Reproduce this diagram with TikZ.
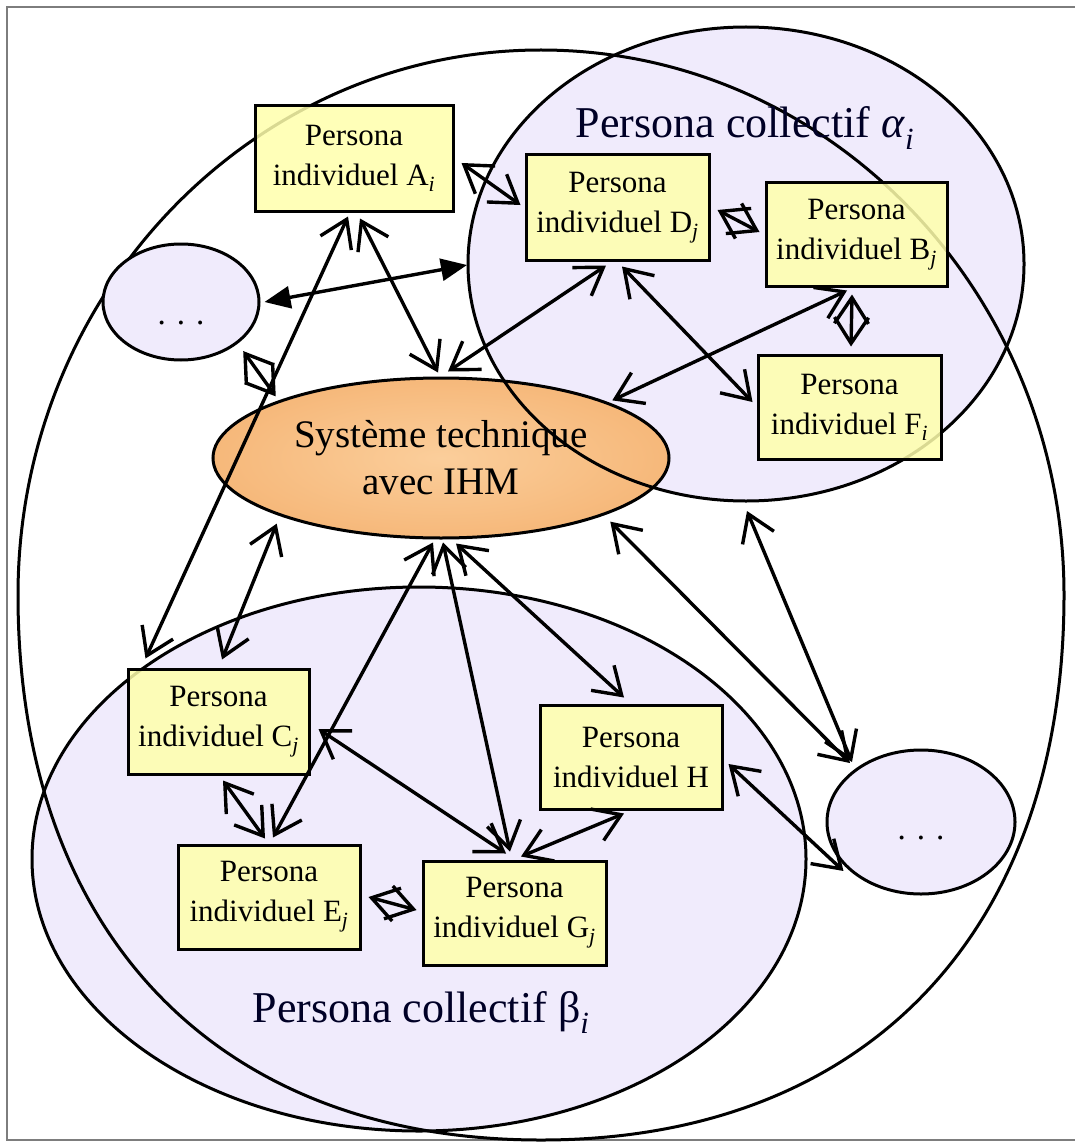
\documentclass[tikz,border=0pt]{standalone}
\usepackage{fontspec}
\setmainfont{Liberation Serif}
\usetikzlibrary{arrows.meta,calc,shapes.geometric}
\definecolor{lav}{RGB}{240,235,252}
\definecolor{boxy}{RGB}{255,255,172}
\definecolor{orin}{RGB}{251,206,155}
\definecolor{orout}{RGB}{246,184,122}
\definecolor{framegray}{RGB}{125,125,125}
\tikzset{
  vb/.tip={Straight Barb[length=26pt,width=34pt]},
  ft/.tip={Triangle[length=26pt,width=22pt]},
  outl/.style={draw=black,line width=3pt},
  pbox/.style={rectangle,draw=black,line width=3pt,fill=boxy,fill opacity=0.85,
    text opacity=1,draw opacity=1,minimum width=183pt,minimum height=105pt,
    inner sep=0pt,align=center,font=\fontsize{31}{40}\selectfont},
  dotell/.style={ellipse,fill=lav,draw=black,line width=3pt,inner sep=0pt,
    font=\fontsize{33}{36}\selectfont},
  link/.style={line width=3.4pt,vb-vb},
  fatlink/.style={line width=3.4pt,ft-ft},
  biglabel/.style={font=\fontsize{44}{50}\selectfont,anchor=base,text=black!85!blue}
}
\begin{document}
\begin{tikzpicture}[x=1pt,y=-1pt]
\useasboundingbox (0,0) rectangle (1074,1142);
\fill[white] (0,0) rectangle (1074,1142);
\draw[framegray,line width=2.5pt] (7,7) rectangle (1090,1140);

% fills of the collective ellipses
\node[ellipse,fill=lav,inner sep=0pt,outer sep=0pt,minimum width=556pt,minimum height=474pt] (Al) at (746,264) {};
\node[ellipse,fill=lav,inner sep=0pt,outer sep=0pt,minimum width=774pt,minimum height=544pt] (Be) at (419,859) {};

% central system
\node[ellipse,draw=black,line width=3pt,shading=radial,inner color=orin,outer color=orout,
  minimum width=456pt,minimum height=160pt,inner sep=0pt,align=center,
  font=\fontsize{39}{47}\selectfont] (S) at (441,458) {Système technique\\avec IHM};

% outlines
\draw[outl] (Al.center) ellipse [x radius=278, y radius=237];
\draw[outl] (Be.center) ellipse [x radius=387, y radius=272];
\draw[outl] (18,595) .. controls (18,294) and (252,50) .. (541,50)
  .. controls (830,50) and (1064,294) .. (1064,595)
  .. controls (1064,933) and (865,1140) .. (541,1140)
  .. controls (217,1140) and (18,933) .. (18,595) -- cycle;

% labels
\node[biglabel] (LA) at (745,138) {Persona collectif \textit{α}\textsubscript{\textit{i}}};
\node[biglabel] (LB) at (421,1022) {Persona collectif β\textsubscript{\textit{i}}};

% "..." ellipses
\node[dotell,minimum width=156pt,minimum height=116pt] (LD) at (181,302)
  {\smash{\raisebox{-22pt}{.\hspace{11pt}.\hspace{11pt}.}}};
\node[dotell,minimum width=188pt,minimum height=144pt] (RD) at (921,822)
  {\smash{\raisebox{-17pt}{.\hspace{11pt}.\hspace{11pt}.}}};

% persona boxes
\node[pbox,minimum width=198pt] (A) at (354,158.5) {Persona\\individuel A\textsubscript{\textit{i}}};
\node[pbox] (D) at (617.5,207.5) {Persona\\individuel D\textsubscript{\textit{j}}};
\node[pbox,minimum width=181pt,minimum height=103pt] (B) at (856.5,234.5) {Persona\\individuel B\textsubscript{\textit{j}}};
\node[pbox,minimum height=104pt] (F) at (849.5,407) {Persona\\individuel F\textsubscript{\textit{i}}};
\node[pbox,minimum width=181pt] (C) at (218.5,721.5) {Persona\\individuel C\textsubscript{\textit{j}}};
\node[pbox,minimum width=182pt,minimum height=104pt] (E) at (269,897) {Persona\\individuel E\textsubscript{\textit{j}}};
\node[pbox,minimum height=104pt] (G) at (514.5,913) {Persona\\individuel G\textsubscript{\textit{j}}};
\node[pbox,minimum width=182pt,minimum height=104pt] (H) at (631,757) {Persona\\individuel H};

% connectors
\draw[link] ($(A.east)+(7,4.5)$) -- ($(D.west)+(-4,-2.5)$);
\draw[link] ($(A.south)+(6,6)$) -- ($(S.north)+(-3,-4)$);
\draw[link] ($(A.south)+(-6,4)$) -- ($(C.north west)+(19,-9)$);
\draw[fatlink] ($(LD.east)+(4,0)$) -- ($(Al.west)+(-1,1)$);
\draw[link] ($(LD.south east)+(6,7)$) -- ($(S.north west)+(-3,-4)$);
\draw[link] ($(D.south)+(-11.5,4)$) -- ($(S.north)+(7,-5)$);
\draw[link] ($(D.south)+(4.5,5)$) -- ($(F.west)+(-4,-5)$);
\draw[link] ($(B.south)+(-9.5,3)$) -- ($(S.north east)+(9,0)$);
\draw[link] ($(D.east)+(7,2.5)$) -- ($(B.west)+(-5,-2.5)$);
\draw[link] ($(B.south)+(-4.5,7)$) -- ($(F.north)+(1.5,-7)$);
\draw[link] ($(S.south west)+(-2,8)$) -- ($(C.north)+(3.5,-8)$);
\draw[link] ($(S.south)+(-8,3)$) -- ($(E.north)+(4,-6)$);
\draw[link] ($(S.south)+(2,3)$) -- ($(G.north)+(-4.5,-8)$);
\draw[link] ($(S.south)+(15,4)$) -- ($(H.north)+(-7,-6)$);
\draw[link] ($(C.east)+(8,7.5)$) -- ($(G.north)+(-8.5,-6)$);
\draw[link] ($(C.south)+(4.5,5)$) -- ($(E.north)+(-4,-5)$);
\draw[link] ($(E.east)+(7,0)$) -- ($(G.west)+(-5,-3)$);
\draw[link] ($(H.south)+(-7,3)$) -- ($(G.north)+(6.5,-3)$);
\draw[link] ($(H.east)+(5,7)$) -- ($(RD.south west)+(-10,-3)$);
\draw[link] ($(S.south east)+(7,6)$) -- ($(RD.north west)+(-3.5,-7)$);
\draw[link] ($(Al.south)+(1,10)$) -- ($(RD.north west)+(-1.5,-8)$);
\end{tikzpicture}
\end{document}
